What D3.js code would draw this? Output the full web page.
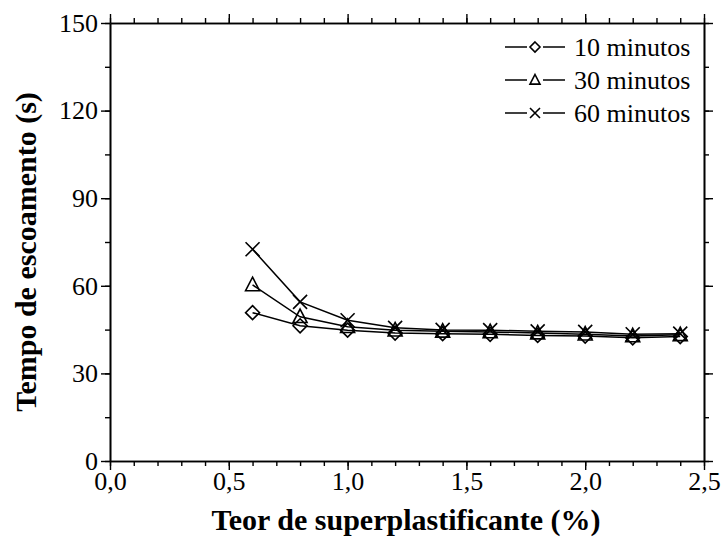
<!DOCTYPE html>
<html>
<head>
<meta charset="utf-8">
<script src="https://cdn.jsdelivr.net/npm/d3@7"></script>
</head>
<body style="margin:0">
<div id="chart"></div>
<script>
// data
const teor = [0.6, 0.8, 1.0, 1.2, 1.4, 1.6, 1.8, 2.0, 2.2, 2.4];
const min10 = [50.8, 46.3, 44.8, 43.8, 43.6, 43.4, 43.0, 42.8, 42.2, 42.6];
const min30 = [60.3, 49.4, 46.0, 44.8, 44.4, 44.2, 43.8, 43.4, 42.8, 43.2];
const min60 = [72.5, 54.5, 48.2, 45.6, 44.9, 44.8, 44.4, 44.2, 43.4, 43.6];
const seriesNames = ["10 minutos", "30 minutos", "60 minutos"];
const xTicks = [0, 0.5, 1.0, 1.5, 2.0, 2.5];
const yTicks = [0, 30, 60, 90, 120, 150];

const FONT = "Liberation Serif";
const W = 724, H = 537;
const margin = { top: 23, right: 20, bottom: 76, left: 110 };
const width = W - margin.left - margin.right;
const height = H - margin.top - margin.bottom;

const svg = d3.select("#chart").append("svg")
    .attr("width", W)
    .attr("height", H);

const g = svg.append("g")
    .attr("transform", `translate(${margin.left},${margin.top})`);

const x = d3.scaleLinear().domain([0, 2.5]).range([0, width]);
const y = d3.scaleLinear().domain([0, 150]).range([height, 0]);

const fmt = d => d3.format(".1f")(d).replace(".", ",");

// minor ticks
const xMinor = d3.range(0, 2.5001, 0.1);
const yMinor = d3.range(0, 150.001, 15);

function serif(sel, size) {
    sel.attr("font-family", FONT)
        .style("font-family", FONT)
        .attr("font-size", size)
        .attr("fill", "#000");
}

function styleAxis(sel) {
    sel.attr("font-family", null).attr("font-size", null);
    sel.selectAll("path").attr("stroke", "#000").attr("stroke-width", 1.6);
    sel.selectAll("line").attr("stroke", "#000").attr("stroke-width", 1.4);
    sel.selectAll("text").call(serif, 26);
}

// bottom
g.append("g").attr("transform", `translate(0,${height})`)
    .call(d3.axisBottom(x).tickValues(xMinor).tickSize(5).tickFormat("").tickSizeOuter(0))
    .call(styleAxis);
g.append("g").attr("transform", `translate(0,${height})`)
    .call(d3.axisBottom(x).tickValues(xTicks).tickSize(9).tickPadding(2).tickFormat(fmt).tickSizeOuter(0))
    .call(styleAxis);
// top
g.append("g")
    .call(d3.axisTop(x).tickValues(xMinor).tickSize(5).tickFormat("").tickSizeOuter(0))
    .call(styleAxis);
g.append("g")
    .call(d3.axisTop(x).tickValues(xTicks).tickSize(9).tickFormat("").tickSizeOuter(0))
    .call(styleAxis);
// left
g.append("g")
    .call(d3.axisLeft(y).tickValues(yMinor).tickSize(5).tickFormat("").tickSizeOuter(0))
    .call(styleAxis);
g.append("g")
    .call(d3.axisLeft(y).tickValues(yTicks).tickSize(9).tickPadding(3).tickFormat(d3.format("d")).tickSizeOuter(0))
    .call(styleAxis);
// right
g.append("g").attr("transform", `translate(${width},0)`)
    .call(d3.axisRight(y).tickValues(yMinor).tickSize(5).tickFormat("").tickSizeOuter(0))
    .call(styleAxis);
g.append("g").attr("transform", `translate(${width},0)`)
    .call(d3.axisRight(y).tickValues(yTicks).tickSize(9).tickFormat("").tickSizeOuter(0))
    .call(styleAxis);

// axis titles
svg.append("text")
    .attr("x", 406)
    .attr("y", 530)
    .attr("text-anchor", "middle")
    .call(serif, 30)
    .attr("font-weight", "bold")
    .text("Teor de superplastificante (%)");

svg.append("text")
    .attr("transform", `translate(36,252) rotate(-90)`)
    .attr("text-anchor", "middle")
    .call(serif, 30)
    .attr("font-weight", "bold")
    .text("Tempo de escoamento (s)");

// markers
function marker(sel, type, s) {
    if (type === 0) {
        sel.append("path").attr("d", `M0,${-s}L${s},0L0,${s}L${-s},0Z`);
    } else if (type === 1) {
        const h = s * 1.1;
        sel.append("path").attr("d", `M0,${-h}L${s},${h * 0.75}L${-s},${h * 0.75}Z`);
    } else {
        sel.append("path").attr("d", `M${-s},${-s}L${s},${s}M${-s},${s}L${s},${-s}`);
    }
    sel.selectAll("path").attr("fill", "none").attr("stroke", "#000").attr("stroke-width", 1.6);
}

const allSeries = [min10, min30, min60];
const line = d3.line().x((d, i) => x(teor[i])).y(d => y(d));

allSeries.forEach((vals, k) => {
    g.append("path")
        .datum(vals)
        .attr("fill", "none")
        .attr("stroke", "#000")
        .attr("stroke-width", 1.5)
        .attr("d", line);
    vals.forEach((v, i) => {
        const m = g.append("g").attr("transform", `translate(${x(teor[i])},${y(v)})`);
        marker(m, k, 7);
    });
});

// legend
const legend = svg.append("g").attr("transform", "translate(505,47)");
seriesNames.forEach((name, k) => {
    const row = legend.append("g").attr("transform", `translate(0,${k * 33})`);
    row.append("line").attr("x1", 0).attr("x2", 22).attr("stroke", "#000").attr("stroke-width", 1.5);
    row.append("line").attr("x1", 38).attr("x2", 60).attr("stroke", "#000").attr("stroke-width", 1.5);
    const m = row.append("g").attr("transform", "translate(30,0)");
    marker(m, k, 5);
    row.append("text")
        .attr("x", 69)
        .attr("y", 0)
        .attr("dy", "0.35em")
        .call(serif, 26)
        .text(name);
});
</script>
</body>
</html>
